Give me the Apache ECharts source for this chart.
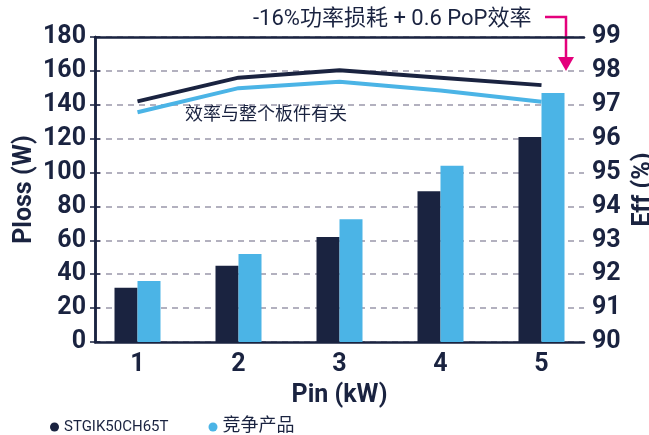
<!DOCTYPE html>
<html>
<head>
<meta charset="utf-8">
<script src="https://cdn.jsdelivr.net/npm/echarts@6/dist/echarts.min.js"></script>
<style>html,body{margin:0;padding:0;background:#fff}#c{width:649px;height:435px}</style>
</head>
<body>
<div id="c"></div>
<script>
const categories = ["1", "2", "3", "4", "5"];
const lossST = [32, 45, 62, 89, 121];
const lossComp = [36, 52, 72.5, 104, 147];
const effST = [97.1, 97.8, 98.02, 97.8, 97.58];
const effComp = [96.78, 97.49, 97.68, 97.42, 97.09];
const seriesNames = ["STGIK50CH65T", "竞争产品"];
const titleText = "-16%功率损耗 + 0.6 PoP效率";
const noteText = "效率与整个板件有关";

const NAVY = "#1a2340";
const BLUE = "#4bb4e6";
const MAG = "#e4007c";
const FONT = "Roboto, 'Noto Sans CJK SC', sans-serif";
const NARROW = "'Liberation Sans Narrow', Roboto, sans-serif";

const chart = echarts.init(document.getElementById('c'));
const axisLineStyle = { show: true, lineStyle: { color: NAVY, width: 2.5 } };
const labelStyle = { color: NAVY, fontSize: 25, fontFamily: NARROW, fontWeight: 'bold' };
const nameStyle = { color: NAVY, fontSize: 25, fontFamily: NARROW, fontWeight: 'bold' };

chart.setOption({
  animation: false,
  textStyle: { fontFamily: FONT },
  title: {
    text: titleText, left: 248, top: 3,
    textStyle: { color: NAVY, fontSize: 22, fontWeight: 'normal', fontFamily: FONT }
  },
  legend: {
    left: 45, top: 413, icon: 'circle', itemWidth: 9, itemHeight: 9, itemGap: 40,
    textStyle: { color: NAVY, fontSize: 15, fontFamily: FONT },
    data: [
      { name: seriesNames[0] },
      { name: seriesNames[1], textStyle: { fontSize: 18 } }
    ]
  },
  grid: [
    { left: 95, right: 65, top: 37, bottom: 93, containLabel: false, outerBoundsMode: 'none' },
    { left: 87, right: 57, top: 37, bottom: 93, containLabel: false, outerBoundsMode: 'none' }
  ],
  xAxis: [
    { gridIndex: 0, type: 'value', min: 0, max: 1, position: 'bottom',
      axisLine: axisLineStyle, axisTick: { show: false }, axisLabel: { show: false }, splitLine: { show: false } },
    { gridIndex: 0, type: 'value', min: 0, max: 1, position: 'top',
      axisLine: axisLineStyle, axisTick: { show: false }, axisLabel: { show: false }, splitLine: { show: false } },
    { gridIndex: 1, type: 'category', data: categories, boundaryGap: true,
      axisLine: { show: false }, axisTick: { show: false },
      axisLabel: Object.assign({ margin: 10 }, labelStyle),
      name: 'Pin (kW)', nameLocation: 'middle', nameGap: 41,
      nameTextStyle: nameStyle }
  ],
  yAxis: [
    { gridIndex: 0, type: 'value', min: 0, max: 180, interval: 20, position: 'left',
      axisLine: axisLineStyle, axisTick: { show: true, inside: true, length: 5, lineStyle: { color: NAVY, width: 1.5 } },
      axisLabel: Object.assign({ margin: 9 }, labelStyle),
      splitLine: { show: true, lineStyle: { color: '#9b98ab', width: 1.5, type: [6, 5] } },
      name: 'Ploss (W)', nameLocation: 'middle', nameRotate: 90, nameGap: 58, nameMoveOverlap: false,
      nameTextStyle: nameStyle },
    { gridIndex: 0, type: 'value', min: 90, max: 99, interval: 1, position: 'right',
      axisLine: axisLineStyle, axisTick: { show: true, inside: true, length: 5, lineStyle: { color: NAVY, width: 1.5 } },
      axisLabel: Object.assign({ margin: 8 }, labelStyle),
      splitLine: { show: false },
      name: 'Eff (%)', nameLocation: 'middle', nameRotate: 90, nameGap: 44,
      nameTextStyle: nameStyle },
    { gridIndex: 1, type: 'value', min: 0, max: 180, show: false },
    { gridIndex: 1, type: 'value', min: 90, max: 99, show: false }
  ],
  series: [
    { name: seriesNames[0], type: 'bar', xAxisIndex: 2, yAxisIndex: 2, data: lossST,
      barWidth: 23, barGap: '0%', itemStyle: { color: NAVY } },
    { name: seriesNames[1], type: 'bar', xAxisIndex: 2, yAxisIndex: 2, data: lossComp,
      barWidth: 23, barGap: '0%', itemStyle: { color: BLUE } },
    { name: seriesNames[0], type: 'line', xAxisIndex: 2, yAxisIndex: 3, data: effST,
      showSymbol: false, symbol: 'none', lineStyle: { color: NAVY, width: 4 }, itemStyle: { color: NAVY }, z: 5 },
    { name: seriesNames[1], type: 'line', xAxisIndex: 2, yAxisIndex: 3, data: effComp,
      showSymbol: false, symbol: 'none', lineStyle: { color: BLUE, width: 4 }, itemStyle: { color: BLUE }, z: 5 }
  ],
  graphic: [
    { type: 'text', left: 185, top: 107, style: { text: noteText, fill: NAVY, fontSize: 18, fontFamily: FONT } },
    { type: 'polyline', shape: { points: [[545, 17], [566, 17], [566, 60]] },
      style: { stroke: MAG, lineWidth: 2.5, fill: null } },
    { type: 'polygon', shape: { points: [[558, 57], [574, 57], [566, 71]] }, style: { fill: MAG } }
  ]
});
</script>
</body>
</html>
